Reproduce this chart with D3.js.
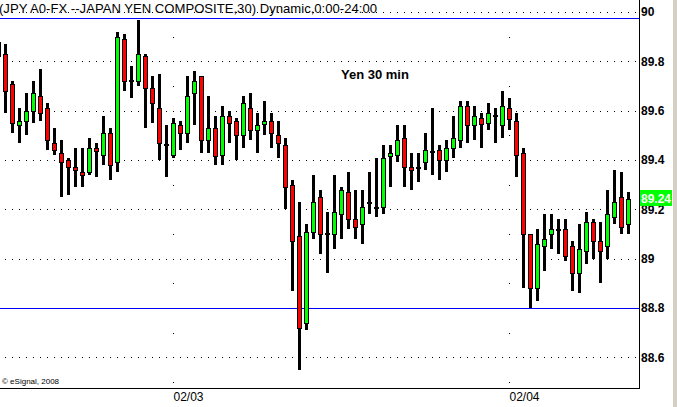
<!DOCTYPE html>
<html>
<head>
<meta charset="utf-8">
<script src="https://cdn.jsdelivr.net/npm/d3@7/dist/d3.min.js"></script>
<style>
  html, body { margin: 0; padding: 0; background: #fff; }
  svg { display: block; }
</style>
</head>
<body>
<svg id="chart" width="677" height="407"></svg>
<script>
// ---- data (30-minute bars, index -1 is the partially visible first bar) ----
const barIndex = d3.range(-1, 90);
const opens  = [89.88, 89.83,89.71,89.54,89.56,89.60,89.66,89.61,89.47,89.43,89.40,
  89.37,89.35,89.35,89.45,89.42,89.51,89.39,89.89,89.723,89.72,
  89.82,89.69,89.61,89.466,89.42,89.54,89.51,89.67,89.74,89.48,
  89.53,89.42,89.58,89.56,89.50,89.61,89.52,89.545,89.56,89.50,
  89.46,89.30,89.09,88.74,89.11,89.25,89.103,89.10,89.18,89.27,
  89.16,89.14,89.228,89.209,89.21,89.415,89.42,89.49,89.37,89.373,
  89.39,89.438,89.44,89.40,89.45,89.48,89.62,89.54,89.57,89.55,
  89.584,89.54,89.61,89.56,89.43,89.10,88.88,89.05,89.10,89.122,
  89.12,89.05,88.94,89.03,89.15,89.07,89.05,89.17,89.25,89.14];
const highs  = [89.885, 89.87,89.72,89.61,89.67,89.72,89.77,89.63,89.53,89.48,89.41,
  89.45,89.45,89.49,89.47,89.58,89.53,89.92,89.91,89.78,89.99,
  89.83,89.74,89.75,89.54,89.57,89.56,89.74,89.76,89.742,89.66,
  89.58,89.62,89.60,89.57,89.66,89.67,89.59,89.64,89.59,89.56,
  89.49,89.32,89.23,89.14,89.34,89.28,89.19,89.34,89.29,89.35,
  89.28,89.28,89.35,89.41,89.46,89.46,89.54,89.54,89.43,89.43,
  89.51,89.61,89.46,89.48,89.58,89.64,89.64,89.62,89.59,89.63,
  89.61,89.68,89.65,89.59,89.45,89.101,89.12,89.18,89.18,89.16,
  89.16,89.07,89.14,89.19,89.16,89.15,89.28,89.36,89.35,89.27];
const lows   = [89.80, 89.59,89.51,89.47,89.50,89.55,89.56,89.44,89.42,89.25,89.26,
  89.29,89.29,89.34,89.33,89.38,89.32,89.35,89.68,89.65,89.70,
  89.53,89.55,89.40,89.33,89.41,89.44,89.47,89.54,89.43,89.43,
  89.38,89.38,89.47,89.40,89.45,89.48,89.43,89.50,89.45,89.41,
  89.20,88.87,88.55,88.71,89.08,89.02,88.94,89.04,89.08,89.12,
  89.08,89.06,89.18,89.17,89.18,89.29,89.39,89.29,89.28,89.31,
  89.36,89.34,89.32,89.35,89.41,89.45,89.47,89.48,89.45,89.52,
  89.47,89.49,89.52,89.33,88.88,88.80,88.83,88.95,89.04,89.02,
  88.99,88.87,88.86,88.98,89.00,88.90,89.00,89.14,89.10,89.10];
const closes = [89.82, 89.68,89.55,89.56,89.60,89.67,89.59,89.48,89.44,89.39,89.37,
  89.36,89.34,89.45,89.435,89.51,89.38,89.90,89.72,89.722,89.83,
  89.69,89.63,89.47,89.465,89.55,89.51,89.66,89.72,89.48,89.53,
  89.415,89.58,89.55,89.50,89.63,89.52,89.54,89.56,89.51,89.47,
  89.29,89.07,88.72,89.11,89.23,89.10,89.101,89.19,89.28,89.16,
  89.13,89.21,89.227,89.208,89.41,89.43,89.48,89.37,89.36,89.372,
  89.44,89.436,89.40,89.45,89.49,89.62,89.54,89.58,89.545,89.59,
  89.582,89.62,89.565,89.42,89.10,88.88,89.06,89.08,89.12,89.120,
  89.01,88.94,89.04,89.15,89.07,89.03,89.18,89.23,89.13,89.24];

const yTicks = [90, 89.8, 89.6, 89.4, 89.2, 89, 88.8, 88.6];
const yTickLabels = ["90", "89.8", "89.6", "89.4", "89.2", "89", "88.8", "88.6"];
const dateTickIndex = [24, 72];
const dateTickLabels = ["02/03", "02/04"];
const lastPrice = 89.24;
const lastPriceLabel = "89.24";
const hLinePrice = 88.8;
const topLinePrice = 89.975;
const titleText = "(JPY A0-FX --JAPAN YEN COMPOSITE,30) Dynamic,0:00-24:00";
const noteText = "Yen 30 min";
const copyrightText = "\u00A9 eSignal, 2008";

// ---- layout ----
const svg = d3.select("#chart");
const plotRight = 639, plotTop = 19, plotBottom = 388;
const x = d3.scaleLinear().domain([0, 89]).range([5.5, 628.5]);
const y = d3.scaleLinear().domain([88.6, 90]).range([357.3, 12]);
const FONT = "'Liberation Sans', Arial, sans-serif";

const bars = barIndex.map((i, k) => ({ i, o: opens[k], h: highs[k], l: lows[k], c: closes[k] }));

// right gray strip (window edge)
svg.append("rect").attr("x", 673).attr("y", 0).attr("width", 4).attr("height", 407).attr("fill", "#d4d0c8");

// horizontal dotted grid
const gGrid = svg.append("g");
yTicks.forEach(v => {
  const yy = Math.round(y(v)) + 0.5;
  gGrid.append("line")
    .attr("x1", 5).attr("x2", plotRight - 1)
    .attr("y1", yy).attr("y2", yy)
    .attr("stroke", "#000").attr("stroke-width", 1)
    .attr("stroke-dasharray", "1,6");
});
// vertical dotted date lines (dots at half levels)
const halfLevels = d3.range(0, 15).map(k => +(89.9 - 0.1 * 2 * k / 2 * 1).toFixed(2)).filter((v, k) => k % 1 === 0);
const halfs = [89.9, 89.7, 89.5, 89.3, 89.1, 88.9, 88.7, 88.5];
dateTickIndex.forEach(di => {
  const xx = Math.round(x(di) - 0.5);
  halfs.forEach(v => {
    gGrid.append("rect").attr("x", xx).attr("y", Math.round(y(v)))
      .attr("width", 1).attr("height", 1).attr("fill", "#000");
  });
});

// title
svg.append("text")
  .attr("x", -1).attr("y", 13)
  .attr("font-family", FONT).attr("font-size", 13)
  .attr("textLength", 378).attr("lengthAdjust", "spacingAndGlyphs")
  .attr("fill", "#000")
  .text(titleText);

// note
svg.append("text")
  .attr("x", 341).attr("y", 79)
  .attr("font-family", FONT).attr("font-size", 13).attr("font-weight", "bold")
  .attr("fill", "#000")
  .text(noteText);

// reference lines
svg.append("line").attr("x1", 0).attr("x2", plotRight)
  .attr("y1", Math.round(y(hLinePrice)) + 0.5).attr("y2", Math.round(y(hLinePrice)) + 0.5)
  .attr("stroke", "#0000ff").attr("stroke-width", 1);
svg.append("line").attr("x1", 0).attr("x2", plotRight)
  .attr("y1", Math.round(y(topLinePrice)) + 0.5).attr("y2", Math.round(y(topLinePrice)) + 0.5)
  .attr("stroke", "#0000ff").attr("stroke-width", 1);

// candles
svg.append("defs").append("clipPath").attr("id", "plotClip")
  .append("rect").attr("x", 0).attr("y", plotTop + 1).attr("width", plotRight).attr("height", plotBottom - plotTop - 1);
const gC = svg.append("g").attr("clip-path", "url(#plotClip)");
const candle = gC.selectAll("g.c").data(bars).join("g").attr("class", "c");
candle.append("rect")
  .attr("x", d => x(d.i) - 1.5)
  .attr("width", 3)
  .attr("y", d => Math.round(y(d.h)))
  .attr("height", d => Math.max(1, Math.round(y(d.l)) - Math.round(y(d.h))))
  .attr("fill", "#000");
candle.append("rect")
  .attr("x", d => x(d.i) - 2)
  .attr("width", 4)
  .attr("y", d => Math.round(y(Math.max(d.o, d.c))) + 0.5)
  .attr("height", d => Math.max(1, Math.round(y(Math.min(d.o, d.c))) - Math.round(y(Math.max(d.o, d.c)))))
  .attr("fill", d => d.c >= d.o ? "#00ff00" : "#ff0000")
  .attr("stroke", "#000").attr("stroke-width", 1);

// frame
svg.append("line").attr("x1", plotRight + 0.5).attr("x2", plotRight + 0.5).attr("y1", 0).attr("y2", plotBottom + 1)
  .attr("stroke", "#000").attr("stroke-width", 1);
svg.append("line").attr("x1", 0).attr("x2", plotRight + 1).attr("y1", plotBottom + 0.5).attr("y2", plotBottom + 0.5)
  .attr("stroke", "#000").attr("stroke-width", 1);

// right price axis
const axR = d3.axisRight(y).tickValues(yTicks)
  .tickFormat((d, i) => yTickLabels[i]).tickSize(0).tickPadding(2);
const gAx = svg.append("g").attr("transform", `translate(${plotRight},0)`).call(axR);
gAx.select(".domain").remove();
gAx.selectAll("text").attr("font-family", FONT).attr("font-size", 12)
  .attr("font-weight", "bold").attr("fill", "#000");

// last price box
const ly = y(lastPrice);
svg.append("rect").attr("x", 640).attr("y", Math.round(ly) - 9).attr("width", 32).attr("height", 16)
  .attr("fill", "#00ff00");
svg.append("text").attr("x", 641).attr("y", Math.round(ly) + 4)
  .attr("font-family", FONT).attr("font-size", 12).attr("font-weight", "bold")
  .attr("fill", "#fff").text(lastPriceLabel);

// date axis
const axB = d3.axisBottom(x).tickValues(dateTickIndex)
  .tickFormat((d, i) => dateTickLabels[i]).tickSize(0).tickPadding(0);
const gB = svg.append("g").attr("transform", `translate(0,${plotBottom})`).call(axB);
gB.select(".domain").remove();
gB.selectAll("text").attr("font-family", FONT).attr("font-size", 12)
  .attr("fill", "#000").attr("text-anchor", "start").attr("dy", null).attr("y", 13)
  .attr("dx", -0.5);

// copyright
svg.append("text").attr("x", 2).attr("y", 384)
  .attr("font-family", FONT).attr("font-size", 8).attr("fill", "#000")
  .text(copyrightText);
</script>
</body>
</html>
